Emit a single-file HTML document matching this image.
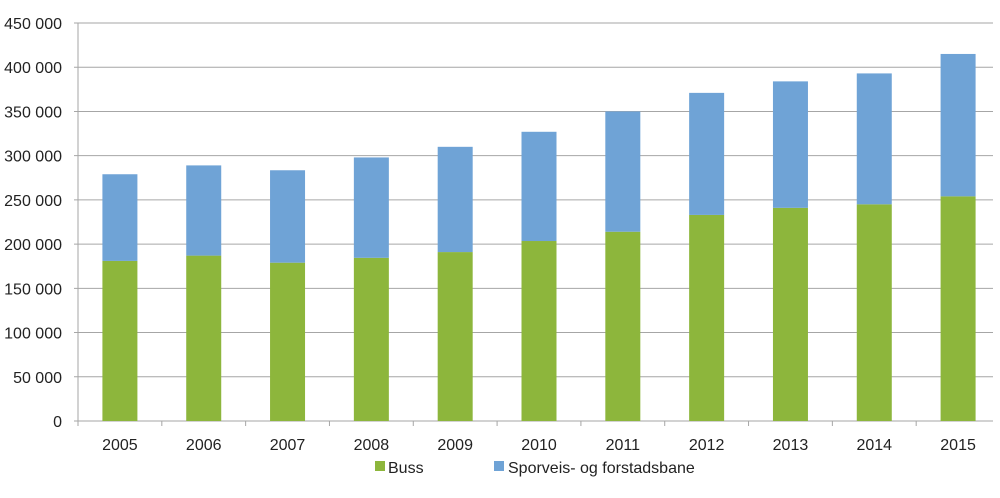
<!DOCTYPE html>
<html><head><meta charset="utf-8"><style>
body{margin:0;background:#fff;font-family:"Liberation Sans",Arial,sans-serif}
svg text{font-family:"Liberation Sans",Arial,sans-serif;font-size:16px;fill:#222}
</style></head><body>
<svg id="c" width="1000" height="493"></svg>
<script>
const categories=["2005","2006","2007","2008","2009","2010","2011","2012","2013","2014","2015"];
const buss=[181000,187000,179000,184500,191000,203500,214000,233000,241000,245000,254000];
const sporvei=[98000,102000,104500,113500,119000,123500,136000,138000,143000,148000,161000];
const yTicks=[0,50000,100000,150000,200000,250000,300000,350000,400000,450000];
const ns="http://www.w3.org/2000/svg";
const svg=document.getElementById("c");
const X0=78,X1=1000,GX1=993,Y0=421,Y1=23,YMAX=450000;
const bw=(X1-X0)/categories.length;
function y(v){return Y0-(v/YMAX)*(Y0-Y1);}
function xc(i){return X0+bw*(i+0.5);}
function mk(t,a){const e=document.createElementNS(ns,t);for(const k in a)e.setAttribute(k,a[k]);svg.appendChild(e);return e;}
function fmt(v){return v===0?"0":String(v).replace(/\B(?=(\d{3})+(?!\d))/g," ");}
yTicks.forEach(v=>{
 const g=mk("line",{x1:X0-4,x2:GX1,y1:y(v),y2:y(v),stroke:"#a6a6a6","stroke-width":1});
 
 
 const t=mk("text",{x:62,y:y(v)+6,"text-anchor":"end"});t.textContent=fmt(v);
 
 
});
const ax=mk("line",{x1:X0,x2:X0,y1:Y1,y2:Y0+5,stroke:"#a6a6a6"});


for(let i=0;i<categories.length;i++){
 const tk=mk("line",{x1:X0+bw*i,x2:X0+bw*i,y1:Y0,y2:Y0+5,stroke:"#a6a6a6"});
 
 
}
categories.forEach((c,i)=>{
 const w=35,x=xc(i)-w/2;
 const b=mk("rect",{x:x,y:y(buss[i]),width:w,height:Y0-y(buss[i]),fill:"#8db63c"});
 
 
 const s=mk("rect",{x:x,y:y(buss[i]+sporvei[i]),width:w,height:y(buss[i])-y(buss[i]+sporvei[i]),fill:"#6fa3d6"});
 
 
 const t=mk("text",{x:xc(i),y:450,"text-anchor":"middle"});t.textContent=c;
 
 
});
const l1=mk("rect",{x:375,y:461,width:10,height:10,fill:"#8db63c"});


const lt1=mk("text",{x:388,y:473});lt1.textContent="Buss";


const l2=mk("rect",{x:494,y:461,width:10,height:10,fill:"#6fa3d6"});


const lt2=mk("text",{x:508,y:473});lt2.textContent="Sporveis- og forstadsbane";


</script>
</body></html>
